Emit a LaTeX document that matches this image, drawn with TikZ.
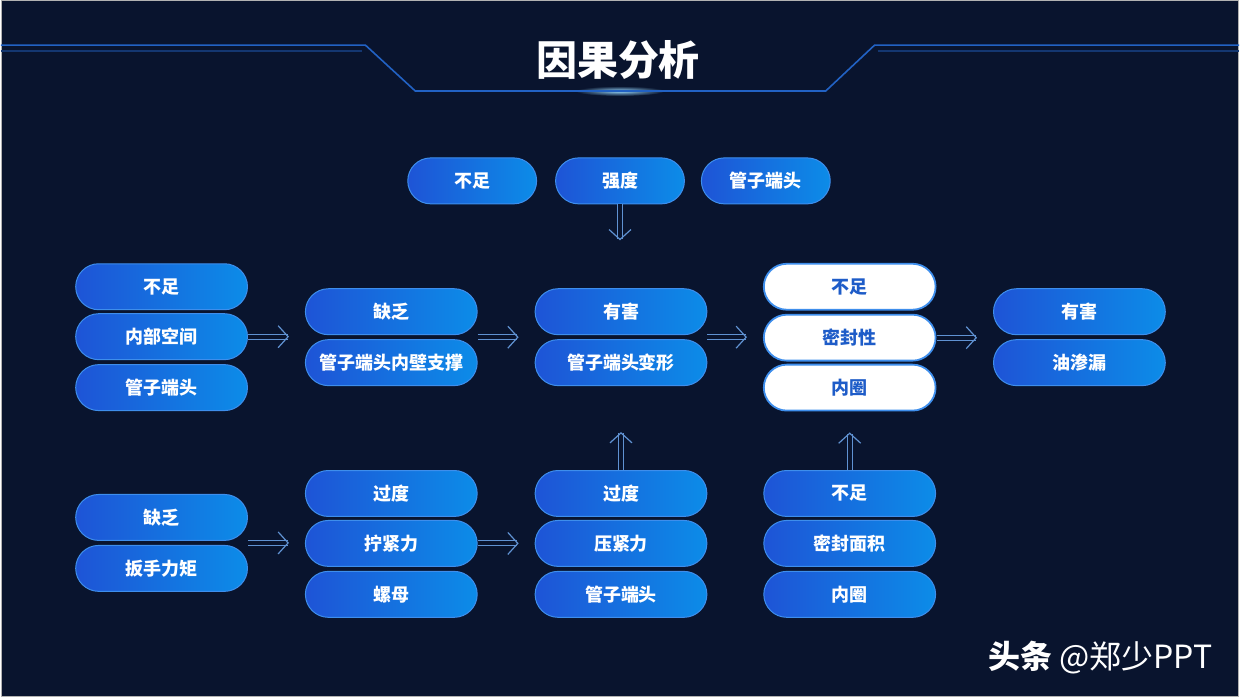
\documentclass[tikz,border=0pt]{standalone}
\usepackage{fontspec}
\setmainfont{Noto Sans CJK SC}[BoldFont={Noto Sans CJK SC Black}]
\usetikzlibrary{arrows.meta,calc}
\definecolor{bgnavy}{RGB}{9,20,46}
\definecolor{pillL}{RGB}{30,84,214}
\definecolor{pillR}{RGB}{12,140,232}
\definecolor{pillEdge}{RGB}{62,142,236}
\definecolor{wtext}{RGB}{30,92,200}
\definecolor{arrblue}{RGB}{96,146,210}
\definecolor{lineblue}{RGB}{34,98,196}

\begin{document}
\begin{tikzpicture}[x=0.5pt,y=0.5pt,yscale=-1,xscale=1,
  pill/.style={draw=pillEdge, line width=0.5pt, left color=pillL, right color=pillR, rounded corners=11.5pt, minimum width=86pt, minimum height=23pt, inner sep=0pt, text=white, font=\bfseries\fontsize{9pt}{9pt}\selectfont},
  toppill/.style={pill, minimum width=64.5pt},
  whitepill/.style={pill, fill=white, left color=white, right color=white, draw=pillEdge, line width=0.9pt, text=wtext},
  dblarrow/.style={draw=arrblue, line width=0.5pt, double=bgnavy, double distance=2pt, -{Straight Barb[length=5pt,width=11pt,line width=0.6pt]}}]
%set diagram area: 1240 x 698
\fill [bgnavy] (0,0) rectangle (1240,698) ;
\draw [gray!60, line width=0.6pt] (0.5,0.5) rectangle (1239.5,697.5) ;

%Shape: Ellipse [title glow]
\shade [inner color={rgb,255:red,150;green,215;blue,255}, outer color=bgnavy] (620,91) ellipse (45 and 5) ;
%Straight Lines [title frame]
\draw [lineblue, line width=0.8pt] (0,45) -- (365,45) -- (415,91) -- (826,91) -- (875,45) -- (1240,45) ;
\draw [lineblue!45!bgnavy, line width=0.8pt] (0,51) -- (362,51) ;
\draw [lineblue!45!bgnavy, line width=0.8pt] (878,51) -- (1240,51) ;

% Text Node
\draw (618,60) node [text=white, font=\bfseries\fontsize{20.5pt}{20.5pt}\selectfont] (title) {因果分析};

% top row
\node [toppill] (T1) at (472,181) {不足};
\node [toppill] (T2) at (620,181) {强度};
\node [toppill] (T3) at (766,181) {管子端头};

% left column
\node [pill] (L1) at (161,287) {不足};
\node [pill] (L2) at (161,337) {内部空间};
\node [pill] (L3) at (161,388) {管子端头};

% second column
\node [pill] (S1) at (391,312) {缺乏};
\node [pill] (S2) at (391,363) {管子端头内壁支撑};

% middle column
\node [pill] (M1) at (621,312) {有害};
\node [pill] (M2) at (621,363) {管子端头变形};

% white column
\node [whitepill] (W1) at (850,287) {不足};
\node [whitepill] (W2) at (850,338) {密封性};
\node [whitepill] (W3) at (850,388) {内圈};

% result column
\node [pill] (R1) at (1080,312) {有害};
\node [pill] (R2) at (1080,363) {油渗漏};

% bottom left
\node [pill] (BL1) at (161,518) {缺乏};
\node [pill] (BL2) at (161,569) {扳手力矩};

% bottom second
\node [pill] (BS1) at (391,494) {过度};
\node [pill] (BS2) at (391,544) {拧紧力};
\node [pill] (BS3) at (391,595) {螺母};

% bottom middle
\node [pill] (BM1) at (621,494) {过度};
\node [pill] (BM2) at (621,544) {压紧力};
\node [pill] (BM3) at (621,595) {管子端头};

% bottom right
\node [pill] (BR1) at (850,494) {不足};
\node [pill] (BR2) at (850,544) {密封面积};
\node [pill] (BR3) at (850,595) {内圈};

%Straight Lines [arrows]
\coordinate (sgap) at ($(S1.south east)!0.5!(S2.north east)$);
\coordinate (mgap) at ($(M1.south east)!0.5!(M2.north east)$);
\coordinate (blgap) at ($(BL1.south east)!0.5!(BL2.north east)$);
\draw [dblarrow, shorten >=8pt] (L2.east) -- (L2.east -| S1.west) ;
\draw [dblarrow, shorten >=8pt] (sgap) -- (sgap -| M1.west) ;
\draw [dblarrow, shorten >=8pt] (mgap) -- (mgap -| W2.west) ;
\draw [dblarrow, shorten >=8pt] (W2.east) -- (W2.east -| R1.west) ;
\draw [dblarrow, shorten >=8pt] (blgap) -- (blgap -| BS2.west) ;
\draw [dblarrow, shorten >=8pt] (BS2.east) -- (BM2.west) ;
\draw [dblarrow, shorten >=24pt] (T2.south) -- (T2.south |- M1.north) ;
\draw [dblarrow, shorten >=23pt] (BM1.north) -- (BM1.north |- M2.south) ;
\draw [dblarrow, shorten >=10.5pt] (BR1.north) -- (W3.south) ;

% Text Node
\draw (1101,658) node [text=white, font=\fontsize{16pt}{16pt}\selectfont] (mark) {\textbf{头条} @郑少PPT};

\end{tikzpicture}
\end{document}
